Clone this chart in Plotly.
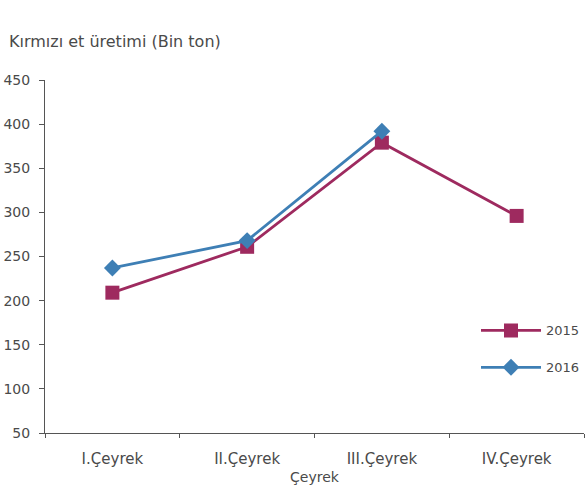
import plotly.graph_objects as go

categories = ["I.Çeyrek", "II.Çeyrek", "III.Çeyrek", "IV.Çeyrek"]
values_2015 = [209, 261, 379, 296]
values_2016 = [237, 268, 392, None]
y_ticks = [50, 100, 150, 200, 250, 300, 350, 400, 450]

FONT = "DejaVu Sans, Verdana, sans-serif"
TXT = "#4a4a4a"

fig = go.Figure()
fig.add_trace(go.Scatter(
    x=categories, y=values_2015, name="2015", mode="lines+markers",
    legendgroup="a",
    line=dict(color="#9E2A5F", width=2.8),
    marker=dict(symbol="square", size=14, color="#9E2A5F"),
))
fig.add_trace(go.Scatter(
    x=categories, y=values_2016, name="2016", mode="lines+markers",
    legendgroup="b",
    line=dict(color="#3E7FB5", width=2.8),
    marker=dict(symbol="diamond", size=13, color="#3E7FB5"),
))

fig.update_layout(
    width=585, height=499,
    paper_bgcolor="white", plot_bgcolor="white",
    margin=dict(l=45, r=0, t=80, b=66),
    font=dict(family=FONT, size=14, color=TXT),
    showlegend=True,
    legend=dict(x=0.80, y=0.333, xanchor="left", yanchor="top",
                bgcolor="rgba(0,0,0,0)", font=dict(size=13, color=TXT),
                itemwidth=60, tracegroupgap=17),
    annotations=[dict(text="Kırmızı et üretimi (Bin ton)", xref="paper", yref="paper",
                      x=-0.07, y=1.11, xanchor="left", yanchor="middle",
                      showarrow=False, font=dict(family=FONT, size=16, color=TXT))],
)
fig.update_xaxes(
    type="category", showline=True, linecolor="#555555", linewidth=1,
    showgrid=False, ticks="outside", tickson="boundaries", ticklen=4,
    tickcolor="#555555", automargin=False, ticklabelstandoff=12,
    tickfont=dict(family=FONT, size=15, color=TXT),
    title=dict(text="Çeyrek", font=dict(family=FONT, size=14, color=TXT), standoff=5),
    range=[-0.5, 3.5],
)
fig.update_yaxes(
    range=[50, 450], tickvals=y_ticks, showline=True, linecolor="#555555",
    linewidth=1, showgrid=False, ticks="outside", ticklen=5, tickcolor="#555555",
    automargin=False, ticklabelstandoff=6,
    tickfont=dict(family=FONT, size=14, color=TXT), zeroline=False,
)

fig.write_html(
    "out.html",
    config={"displayModeBar": False},
    post_script="document.body.style.margin='0';document.body.style.overflow='hidden';",
)
